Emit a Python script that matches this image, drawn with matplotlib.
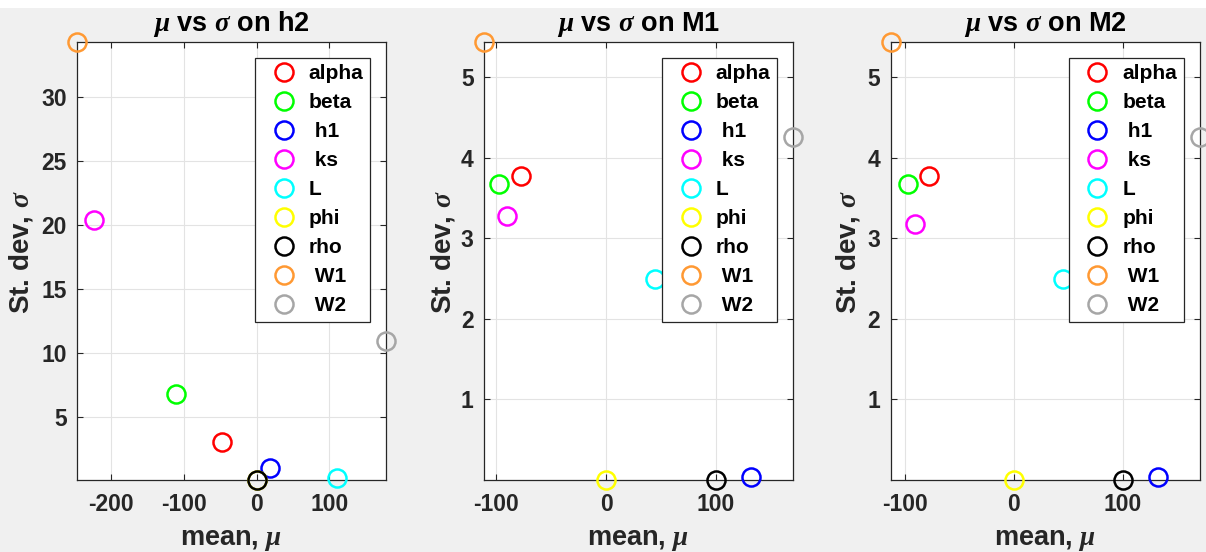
import matplotlib
matplotlib.use("Agg")
from matplotlib import pyplot as plt
from matplotlib.patches import Rectangle

plt.rcParams['font.family'] = ['Liberation Sans', 'DejaVu Sans']
plt.rcParams['font.weight'] = 'bold'
plt.rcParams['axes.unicode_minus'] = False
plt.rcParams['mathtext.fontset'] = 'custom'
plt.rcParams['mathtext.it'] = 'Liberation Serif:italic'
plt.rcParams['mathtext.rm'] = 'Liberation Sans'

## Data
labels = ["alpha", "beta", " h1", " ks", "L", "phi", "rho", " W1", " W2"]
colors = ["#ff0000", "#00ff00", "#0000ff", "#ff00ff", "#00ffff",
          "#ffff00", "#000000", "#ff9933", "#a6a6a6"]

h2_mu = [-47, -111, 18.7, -224, 111, 0, 0, -247, 178]
h2_sigma = [3.04, 6.8, 1.0, 20.4, 0.26, 0.1, 0.1, 34.3, 10.98]

M1_mu = [-77, -97, 131.5, -90, 44.5, 0, 100, -111, 170]
M1_sigma = [3.78, 3.68, 0.04, 3.28, 2.5, 0.0, 0.0, 5.44, 4.26]

M2_mu = [-78, -97, 132.5, -90.5, 45, 0, 100, -113, 170.5]
M2_sigma = [3.78, 3.68, 0.04, 3.18, 2.5, 0.0, 0.0, 5.44, 4.26]

panels = [("h2", h2_mu, h2_sigma, [-200, -100, 0, 100], [5, 10, 15, 20, 25, 30]),
          ("M1", M1_mu, M1_sigma, [-100, 0, 100], [1, 2, 3, 4, 5]),
          ("M2", M2_mu, M2_sigma, [-100, 0, 100], [1, 2, 3, 4, 5])]

W, H = 1206.0, 552.0
lefts_px = [77, 484, 890.7]
width_px = 309
top_px, bot_px = 42, 480
ylab_px = [21, 443, 848]
dark = "#262626"

fig = plt.figure(figsize=(W / 100, H / 100), dpi=100, facecolor="#f0f0f0")
fig.patches.append(Rectangle((0, 1 - 8 / H), 1, 8 / H, transform=fig.transFigure,
                             facecolor="white", edgecolor="none", zorder=-1))

for k, (name, mu, sigma, xt, yt) in enumerate(panels):
    ax = fig.add_axes([lefts_px[k] / W, 1 - bot_px / H, width_px / W, (bot_px - top_px) / H])
    ax.set_facecolor("white")
    for i in range(len(labels)):
        ax.plot(mu[i], sigma[i], 'o', mfc='none', mec=colors[i], ms=13, mew=1.8,
                label=labels[i], clip_on=False, zorder=3)
    ax.set_xlim(min(mu), max(mu))
    ax.set_ylim(min(sigma), max(sigma))
    ax.set_xticks(xt)
    ax.set_yticks(yt)
    ax.grid(True, color="#e3e3e3", linewidth=0.8)
    ax.set_axisbelow(True)
    ax.tick_params(direction='in', top=True, right=True, length=4, width=0.8,
                   colors=dark, labelsize=16.5)
    ax.tick_params(axis='x', pad=9.5)
    ax.tick_params(axis='y', pad=7.5)
    for lab in ax.get_xticklabels() + ax.get_yticklabels():
        lab.set_fontweight('bold')
    for s in ax.spines.values():
        s.set_color(dark)
        s.set_linewidth(0.9)
    ax.set_title(r"$\mu$ vs $\sigma$ on " + name, fontsize=19.5, fontweight='bold', pad=8)
    ax.set_xlabel(r"mean, $\mu$", fontsize=19.5, fontweight='bold', color=dark, va='baseline')
    ax.xaxis.set_label_coords(0.5, -(545 - bot_px) / (bot_px - top_px))
    ax.set_ylabel(r"St. dev, $\sigma$", fontsize=20, fontweight='bold', color=dark, va='center')
    ax.yaxis.set_label_coords((ylab_px[k] - lefts_px[k]) / width_px, 0.52)
    leg = ax.legend(loc='upper right', bbox_to_anchor=(0.948, 0.964), fontsize=15,
                    frameon=True, fancybox=False, framealpha=1, edgecolor="#262626",
                    handlelength=2.1, handletextpad=0.15, labelspacing=0.48,
                    borderpad=0.32, borderaxespad=0)
    leg.get_frame().set_linewidth(0.9)
    for t in leg.get_texts():
        t.set_fontweight('bold')
    for h in leg.legend_handles:
        h.set_markersize(13)

fig.savefig("out.png", dpi=100, facecolor=fig.get_facecolor())
